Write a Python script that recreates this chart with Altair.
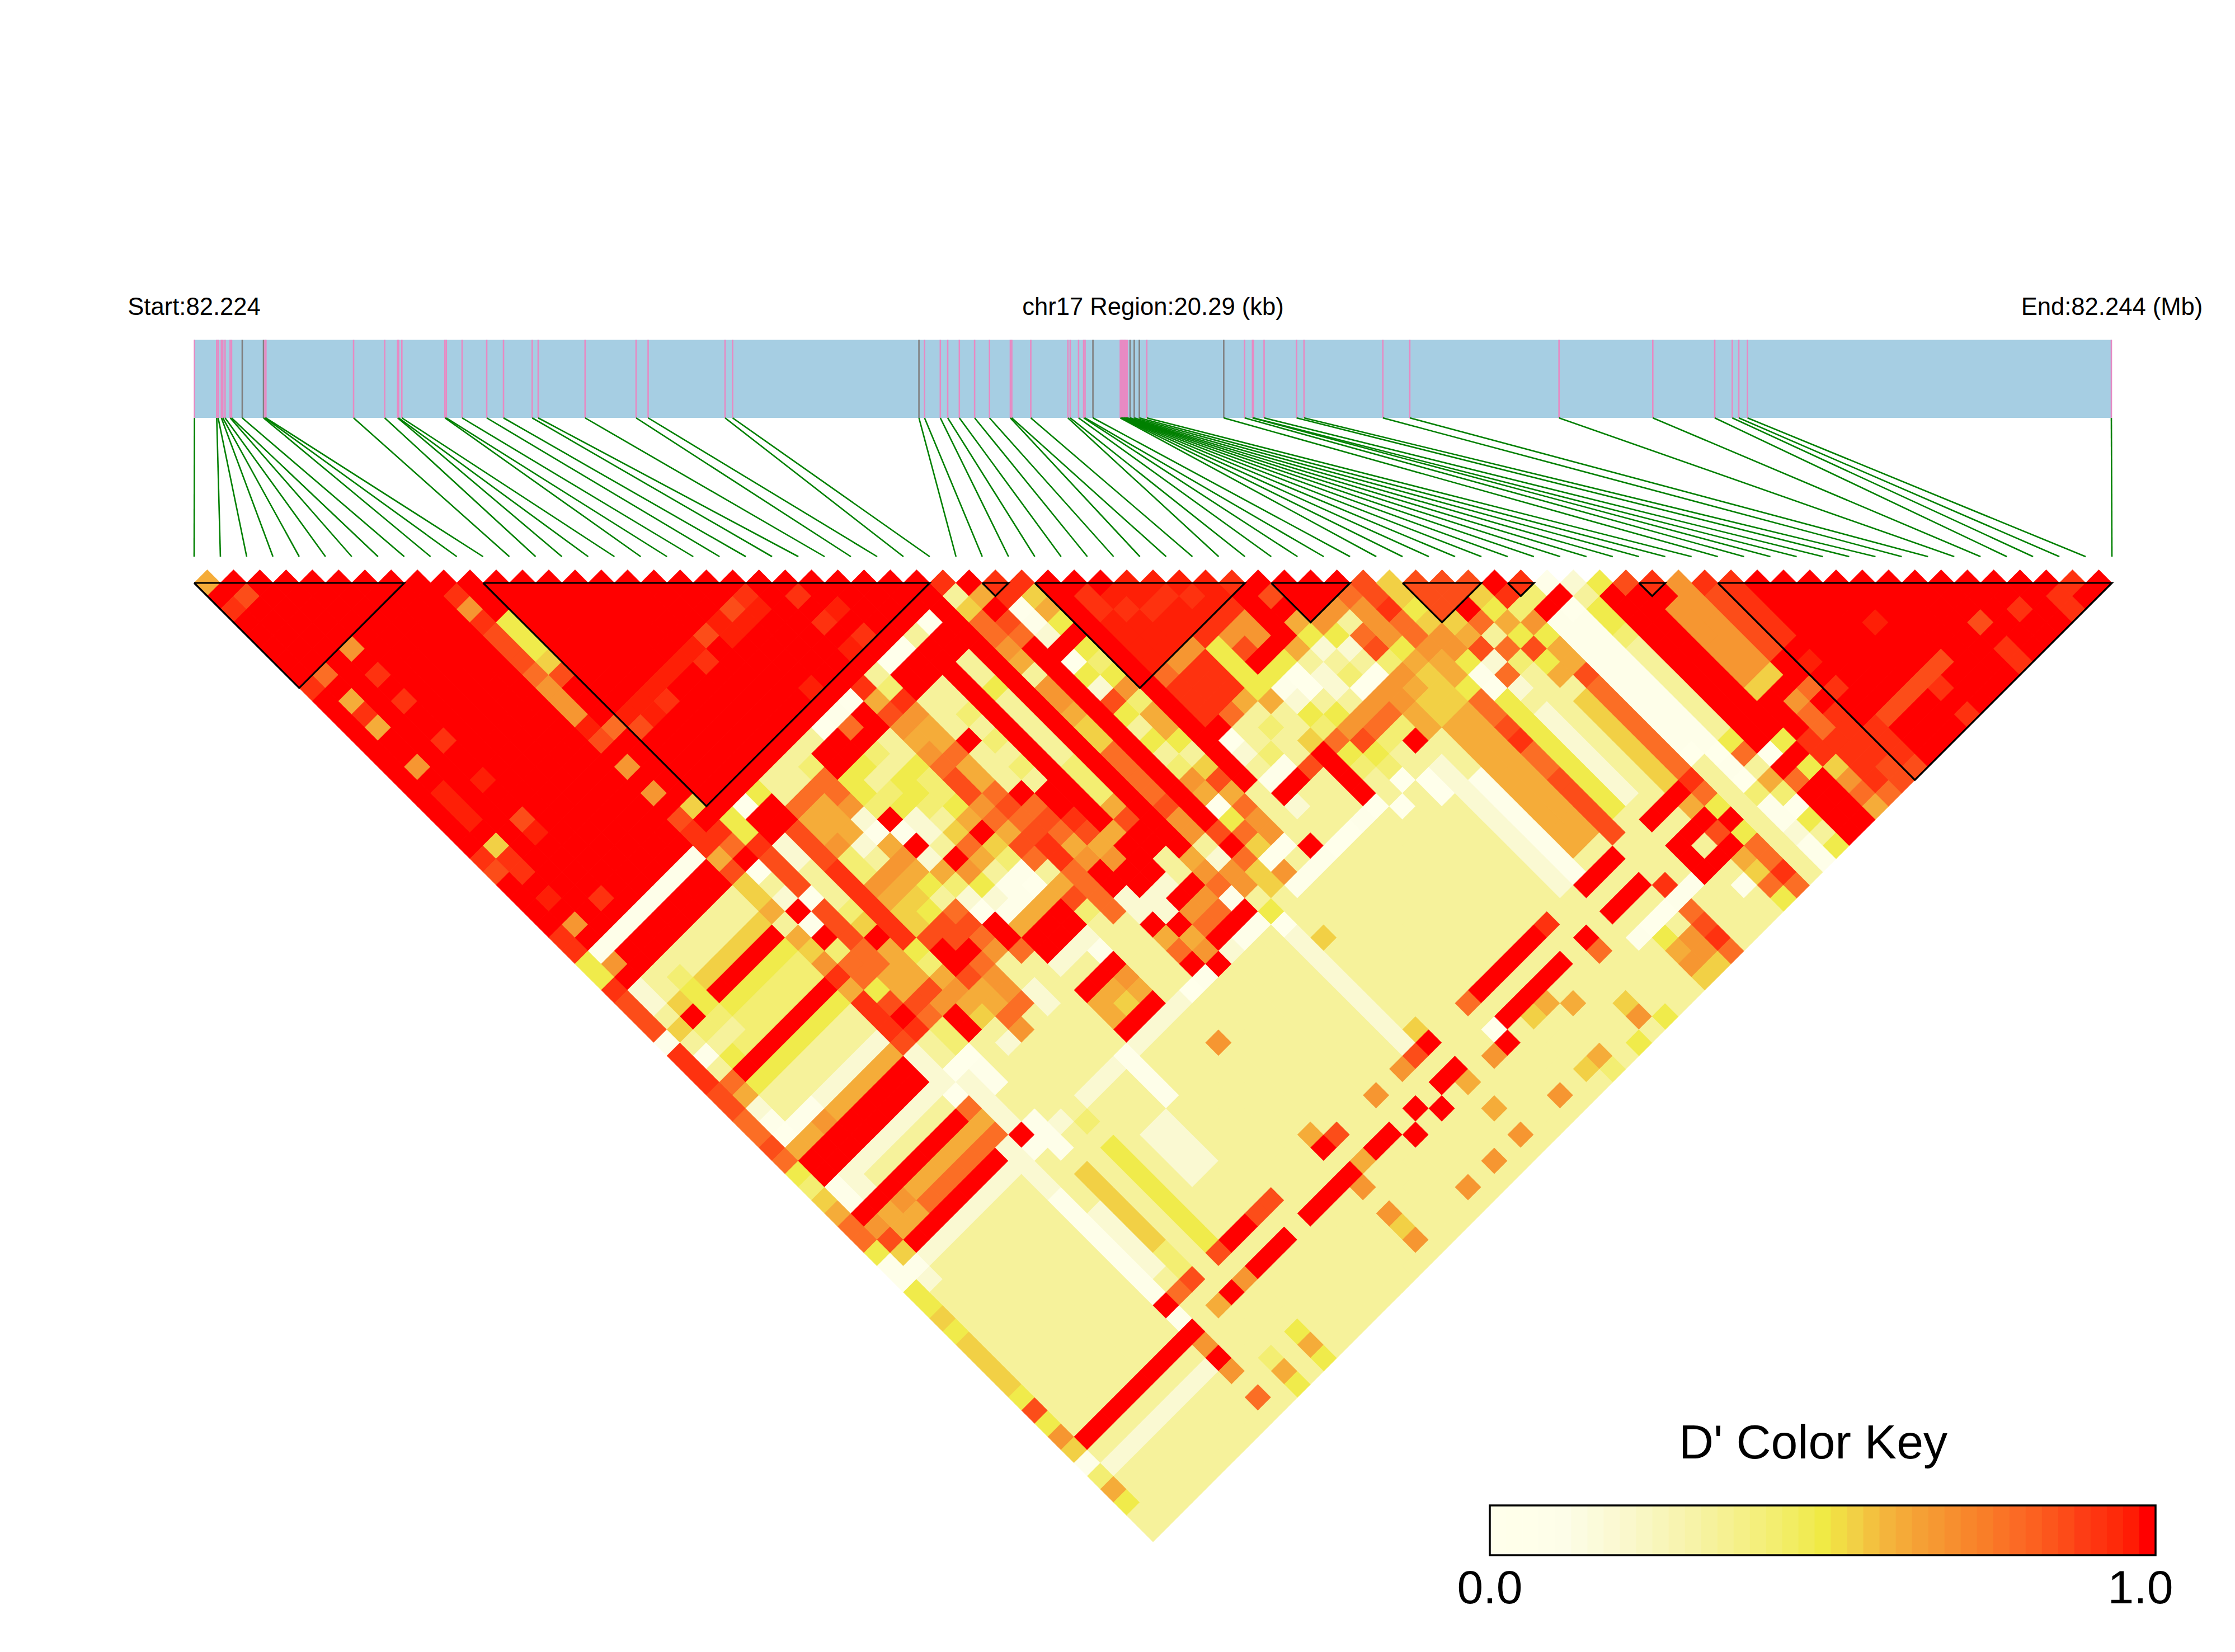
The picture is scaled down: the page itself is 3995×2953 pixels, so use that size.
import altair as alt
import pandas as pd

N_SNP = 74
LEFT, RIGHT, TOP = 347.0, 3775.0, 1042.0
HALF = (RIGHT - LEFT) / (2 * (N_SNP - 1))

LEVELS = {'0':0,'1':.06,'2':.18,'3':.33,'4':.42,'5':.49,'6':.55,'7':.62,'8':.68,'9':.79,'a':.87,'b':.93,'c':.97,'R':1}
KEY_DOMAIN = [0,.1,.2,.3,.4,.5,.55,.6,.65,.7,.8,.9,1]
KEY_RANGE = ['#FFFFFF','#FDFDE8','#FAF8CC','#F7F3A8','#F4EF7C','#F0EA45','#F2D045','#F4B43C','#F5A035','#F78F2F','#FB6A25','#FD3D15','#FF0000']

# SNP positions in the gene bar
GENE_X = [347.6,387.4,389.9,395.7,398.2,402.3,411.4,413.9,433,471,473.6,475.3,632,687.6,710.8,712.5,718.3,795.3,797.8,826,870,900,951.3,962,1045.8,1137,1158.5,1296,1309.5,
 1642.6,1652.6,1680.8,1694,1714.8,1742.1,1768.7,1806,1808.5,1842.5,1908.8,1913,1927.9,1937,1939.5,1953.6,
 2002.5,2004,2005.5,2007,2008.5,2010,2011.5,2013,2015,2020,2027.4,2036.5,2049.8,2187.4,2224.7,2238.8,2240.5,2259.5,2317.6,2330.9,2471.8,2519.9,
 2786.7,2954.3,3065,3096.4,3108,3123.6,3774]
GENE_GRAY = [8,9,29,44,54,55,56,58]

# haplotype blocks (first, last SNP)
BLOCKS = [(0,8),(11,28),(30,31),(32,40),(41,44),(46,49),(50,51),(55,56),(58,73)]

# D': rectangles of (first i, last i, first j, last j, level)
PATCHES = [
 (0,72,1,73,'3'),(0,28,1,29,'R'),(0,8,31,32,'R'),(1,8,30,30,'1'),
 (9,21,54,54,'2'),(22,35,54,54,'1'),(36,38,54,54,'0'),(1,8,69,69,'2'),(41,45,69,69,'1'),
 (32,40,33,40,'R'),(33,38,36,40,'c'),(32,32,41,48,'R'),
 (41,44,42,44,'R'),(46,49,47,49,'a'),(46,49,46,46,'R'),
 (58,73,59,73,'R'),(53,54,55,66,'R'),(55,56,57,63,'8'),(57,57,59,63,'a'),(58,58,59,63,'b'),(59,63,70,70,'a'),
 (42,43,59,61,'7'),(42,43,54,58,'7'),(42,43,62,63,'7'),(44,44,58,59,'9'),(44,44,60,64,'a'),(41,41,57,64,'1'),(40,40,55,64,'2'),
 (45,45,56,63,'5'),(46,46,57,63,'2'),(47,47,56,64,'3'),(48,48,58,64,'6'),(49,49,58,64,'9'),(50,50,54,63,'1'),(50,51,64,64,'0'),
 (33,37,65,65,'R'),(33,37,67,67,'R'),(41,43,65,65,'R'),(41,43,67,67,'R'),(46,48,65,65,'R'),(46,48,67,67,'R'),(46,48,69,69,'R'),
 (1,9,67,67,'R'),(14,15,65,65,'R'),(14,16,67,67,'R'),(18,21,67,67,'R'),(23,24,67,67,'R'),(28,29,67,67,'R'),
 (28,28,54,64,'2'),(17,17,54,57,'1'),(15,16,58,61,'2'),(13,13,57,64,'5'),(11,11,57,62,'6'),(10,10,59,63,'2'),(9,9,57,64,'1'),
 (33,34,50,50,'R'),(36,36,50,53,'R'),(23,27,53,53,'R'),
]
# rows read along a band: (SNP i, first j, levels)
ROW_STRINGS = [
 (0,30,'55baaa1bbbaa99a9546799511556566665a586147 5'),
 (1,31,'8R22363139 7210 7RR11R8a612'),
 (2,33,'336R435R5331 7RR22R77R2'),
 (3,33,'34554 34R5331 8RR23R87R2'),
 (4,33,'336R544R5332 7RR23R79R2'),
 (5,33,'336R544R5332 7RR23R79R2'),
 (6,33,'336R544R5332 7RR23R79R2'),
 (7,33,'336R544R5332 7RR23R79R2'),
 (8,33,'336R544R5332 7RR23R79R2'),
 (9,29,'bb7a6673768b7bbba222 09 7922 2211 11111111R2R8333 93'),
 (10,29,'Rb9R032R1R499 5aRb330 2222R1'),
 (11,30,'55baaa0aaa99 77a94401133 1113666666 44a37333 43 3'),
 (12,30,'0RR2233346R777a8RR3'),
 (13,30,'5RRaaabbbbbb5478763233 3334'),
 (14,31,'3977844876 6aRRa7798 3'),
 (15,31,'3977723876 5aaR988 9'),
 (16,31,'4998217875 39a983322'),
 (17,31,'RR554R1R274 201R93'),
 (18,30,'0RR5345223R852 17RR23R77R'),
 (19,30,'19R4355436 97311 7RR23R76R'),
 (20,30,'0RR33544 57R6410 7RR21R87R'),
 (21,30,'b7a878 9aa8 97a93 7a4'),
 (22,30,'34b8779779a9abb99993'),
 (23,30,'0RR333R333R9a9 78RR22R79R'),
 (24,30,'0RR3 34343 4 3RRba78RR22R78R'),
 (25,31,'RRRRRRRRRRRRRR7RRR2R89R2'),
 (26,29,'R0RR33533333 44 47aRR33R89R'),
 (27,28,'RRRRRRRRRRRRRRRRRRRRR7891R1'),
 (28,29,'b36998738876699 99a88 32883 50'),
 (29,30,'R7Ra9RRRRRRRRRRRRRRaR9663'),
 (30,31,'bb012R052a53534870 59608'),
 (31,32,'b675R5458477536a798 80'),
 (33,41,'9bbbR0231R2330'),
 (34,41,'8bbb9334 1R3330'),
 (35,41,'8bbb7343 3a3331'),
 (36,41,'b5555 7 33 6'),
 (37,41,'b8aR5125495 4330'),
 (38,41,'b88R50 03 58a54 0'),
 (39,41,'RRRR73 22 389 4 3 3 00'),
 (40,41,'RaR7523408 94R3'),
 (41,45,'8523 0 88 77 3 3 3'),
 (42,45,'839a48766 7'),
 (43,45,'98885 7666 7'),
 (44,45,'aab99877599 ab'),
 (45,46,'6656885 105'),
 (46,50,'67a 29 2'),
 (47,50,'R 9 3 9 4'),
 (48,49,'a6 5 7 5a 5 7'),
 (49,50,'Rb 4 8 5 7 7 a'),
 (50,51,'b4R'),
 (51,52,'1 R 0 1111111111 0 1 0 4 1 1 2 1 1'),
 (52,53,'33 5 5 4 3 33333 3 5 9 3 7 4 0 5 3 5 3'),
 (53,54,'5'),
 (48,65,'R7RaR7695'),(49,65,'b95R599b9'),
 (53,67,'0R9RRRR'),(54,55,'a'),(54,67,'5R5RRRR'),(55,56,'bR'),(55,64,'6RRRbb6897'),
 (56,57,'8'),(56,64,'6R899bbbb9'),(57,58,'b'),(57,64,'RR9Rbbbbaa'),(58,64,'RcRbRRbbba'),
 (9,11,'b8baaa988 8 c a'),(10,14,'5556a'),
]
SINGLES = ['0 1 7','0 3 b','1 3 a','3 9 8','1 9 9','0 9 b','3 11 b','1 11 7','3 13 b','1 12 b','1 13 7','3 16 b','1 16 8','3 19 c','1 18 c','1 19 c','1 20 c',
 '3 22 a','3 23 c','1 22 6','0 22 b','0 23 a','1 23 b','1 24 b','1 26 c','3 28 b','1 28 8','0 28 b','0 29 b','10 28 6','9 28 a',
 '26 30 0','24 30 0','23 30 0','22 30 3','21 30 b','20 30 0','32 53 R','10 53 R','17 44 R','9 65 R','11 65 a','10 65 9','12 67 R','13 67 8','11 67 7','9 68 8','9 72 9',
 '26 50 R','29 50 R','25 68 R','26 67 R','27 68 R','29 65 R','28 65 a','27 65 8','32 68 R','32 67 0','33 36 b','62 66 c','66 70 a','68 71 b','70 72 b','70 73 b','71 72 a','66 72 b','66 73 b','62 71 b','62 73 b',
 '39 40 b','44 45 a','45 46 6','51 52 1','52 53 2','53 54 5','54 55 a','55 56 b','56 57 8','57 58 b','71 72 b','44 68 b','49 68 R','45 54 0',
 '29 57 6','21 57 8','29 64 6','25 65 8','21 64 7','22 65 a','21 65 R','22 67 7','21 68 8','21 70 8','21 71 6','21 72 8','25 72 8','27 72 8','29 72 8','29 70 7','32 72 8','31 68 8','29 68 7',
 '35 68 7','36 69 7','34 68 6','35 72 7','34 72 6','38 71 6','38 72 8','42 72 8','42 73 6','39 73 5','37 73 5','35 73 4','13 73 5','13 72 7','13 71 5','11 72 7','11 73 5','40 53 R',
 '13 65 a','16 65 a','17 65 a','33 65 R','32 65 9','38 65 b','39 67 R','44 68 b','46 68 R','22 54 0','27 54 1',
 '20 22 b','19 22 a','18 22 c','17 22 a','20 23 c','19 23 c','18 23 c','22 24 b','16 22 c','16 23 b','15 22 c','14 22 c','13 22 c','12 22 c','13 23 b','12 23 c','11 23 a','11 22 c','10 22 9',
 '23 26 c','22 26 b','23 28 b','22 28 c','19 28 c','9 24 8','9 26 8','33 35 b','34 37 b','35 38 b','36 38 b','37 39 b',
 '42 70 5','42 71 7','43 71 8','44 71 a','44 72 b','44 73 9','43 73 6','44 70 9','43 72 8','43 69 0','42 69 0','47 71 1','39 68 9']

def build():
    grid = {}
    for i0, i1, j0, j1, c in PATCHES:
        for i in range(i0, i1 + 1):
            for j in range(max(j0, i + 1), min(j1, N_SNP - 1) + 1):
                grid[(i, j)] = c
    for i, j0, s in ROW_STRINGS:
        for k, c in enumerate(s.replace(' ', '')):
            if j0 + k < N_SNP:
                grid[(i, j0 + k)] = c
    for s in SINGLES:
        i, j, c = s.split()
        grid[(int(i), int(j))] = c
    return grid

grid = build()
cells = pd.DataFrame([{'x': LEFT + HALF * (i + j), 'y': TOP + HALF * (j - i - 1), 'd': LEVELS[c]} for (i, j), c in sorted(grid.items())])

xs = alt.Scale(domain=[8, 3987], nice=False, zero=False)
ys = alt.Scale(domain=[2945, 8], nice=False, zero=False)
cs = alt.Scale(domain=KEY_DOMAIN, range=KEY_RANGE, clamp=True)
X = lambda f='x': alt.X(f'{f}:Q', scale=xs, axis=None)
Y = lambda f='y': alt.Y(f'{f}:Q', scale=ys, axis=None)

heat = alt.Chart(cells).mark_point(shape='diamond', filled=True, opacity=1, size=(2 * HALF + 1.0) ** 2, strokeWidth=0).encode(
    x=X(), y=Y(), color=alt.Color('d:Q', scale=cs, legend=None))

bar = alt.Chart(pd.DataFrame([{'x': LEFT, 'x2': RIGHT, 'y': 607.5, 'y2': 747}])).mark_rect(color='#A6CEE3').encode(
    x=X(), x2='x2:Q', y=Y(), y2='y2:Q')

snps = pd.DataFrame({'x': GENE_X, 'end': [LEFT + (RIGHT - LEFT) * i / (N_SNP - 1) for i in range(N_SNP)],
                     'y0': 607.5, 'y1': 747.0, 'y2': 995.0,
                     'c': ['#808080' if i in GENE_GRAY else '#E78AC3' for i in range(N_SNP)]})
marks = alt.Chart(snps).mark_rule(strokeWidth=2.6).encode(x=X(), y=Y('y0'), y2='y1:Q', color=alt.Color('c:N', scale=None))
links = alt.Chart(snps).mark_rule(strokeWidth=2.6, color='#008000').encode(x=X(), x2='end:Q', y=Y('y1'), y2='y2:Q')

tri = []
for b, (a, e) in enumerate(BLOCKS):
    pts = [(LEFT + 2 * HALF * a, TOP), (LEFT + 2 * HALF * e, TOP), (LEFT + HALF * (a + e), TOP + HALF * (e - a)), (LEFT + 2 * HALF * a, TOP)]
    tri += [{'b': b, 'o': k, 'x': p[0], 'y': p[1]} for k, p in enumerate(pts)]
tris = alt.Chart(pd.DataFrame(tri)).mark_line(color='black', strokeWidth=3.2, strokeJoin='miter').encode(
    x=X(), y=Y(), detail='b:N', order='o:Q')

KEY_STEPS = 41
kx0, kx1, ky0, ky1 = 2663.0, 3853.0, 2691.0, 2780.0
key = pd.DataFrame([{'x': kx0 + (kx1 - kx0) * k / KEY_STEPS, 'x2': kx0 + (kx1 - kx0) * (k + 1) / KEY_STEPS + .5, 'y': ky0, 'y2': ky1, 'd': k / (KEY_STEPS - 1)} for k in range(KEY_STEPS)])
keyr = alt.Chart(key).mark_rect().encode(x=X(), x2='x2:Q', y=Y(), y2='y2:Q', color=alt.Color('d:Q', scale=cs, legend=None))
frame = alt.Chart(pd.DataFrame([{'x': kx0, 'x2': kx1, 'y': ky0, 'y2': ky1}])).mark_rect(fill=None, stroke='black', strokeWidth=3.5).encode(
    x=X(), x2='x2:Q', y=Y(), y2='y2:Q')

LABELS = [('Start:82.224', 347, 563, 43.6), ('chr17 Region:20.29 (kb)', 2061, 563, 43.6), ('End:82.244 (Mb)', 3775, 563, 43.6),
          ("D' Color Key", 3241, 2607, 86), ('0.0', 2663, 2866, 84), ('1.0', 3826, 2866, 84)]
txt = alt.Chart(pd.DataFrame([{'t': a, 'x': b, 'y': c, 's': d} for a, b, c, d in LABELS])).mark_text(
    font='Liberation Sans', baseline='alphabetic', align='center', color='black').encode(
    x=X(), y=Y(), text='t:N', size=alt.Size('s:Q', scale=None, legend=None))

chart = alt.layer(heat, bar, marks, links, tris, keyr, frame, txt).resolve_scale(color='independent').properties(
    width=3979, height=2937, padding=0).configure_view(stroke=None)
chart.save("out.html", embed_options={"renderer": "svg", "actions": False})
